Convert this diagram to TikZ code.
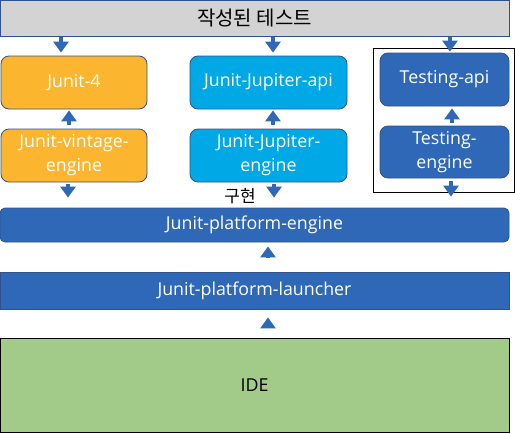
\documentclass[tikz,border=0pt]{standalone}
\usepackage{fontspec}
\setmainfont{Open Sans}
\newfontfamily\kr{Noto Sans CJK KR}
\usetikzlibrary{arrows.meta,calc}

\definecolor{topgray}{RGB}{211,211,211}
\definecolor{junorange}{RGB}{251,181,47}
\definecolor{jupcyan}{RGB}{0,169,230}
\definecolor{platblue}{RGB}{46,104,183}
\definecolor{edgeblue}{RGB}{47,82,143}
\definecolor{idegreen}{RGB}{162,203,138}

\tikzset{
  box/.style={draw=edgeblue, line width=0.8pt, rounded corners=8pt, text=white,
    align=center, inner sep=0pt, font=\fontsize{17.8}{24}\selectfont},
  flatbox/.style={box, rounded corners=0pt},
  blk/.style={draw=platblue, line width=4.5pt, -{Triangle[width=15pt,length=11pt]}},
}

\begin{document}
\begin{tikzpicture}[x=1pt, y=-1pt]
    \useasboundingbox (0,0) rectangle (515,434);

    % layers
    \node[flatbox, fill=topgray, text=black, minimum width=509pt, minimum height=36pt,
      font=\kr\fontsize{20}{22}\selectfont] (test) at (254.5,18) {작성된 테스트};

    \node[box, fill=junorange, minimum width=146pt, minimum height=53pt] (j4) at (74,82.5) {Junit-4};
    \node[box, fill=jupcyan, minimum width=157pt, minimum height=53pt] (jupapi) at (268.5,82.5) {Junit-Jupiter-api};
    \node[box, fill=platblue, minimum width=129pt, minimum height=53pt] (tapi) at (444.5,79.5) {Testing-api};

    \node[box, fill=junorange, minimum width=146pt, minimum height=53pt] (vint) at (74,155.5) {Junit-vintage-\\engine};
    \node[box, fill=jupcyan, minimum width=157pt, minimum height=53pt] (jupeng) at (268.5,155.5) {Junit-Jupiter-\\engine};
    \node[box, fill=platblue, minimum width=129pt, minimum height=52pt] (teng) at (444.5,152) {Testing-\\engine};

    \node[draw=black, line width=0.8pt, minimum width=141pt, minimum height=144pt] (grp) at (443.5,120) {};

    \node[box, rounded corners=5pt, fill=platblue, minimum width=509pt, minimum height=34pt] (peng) at (254.5,225) {Junit-platform-engine};
    \node[flatbox, fill=platblue, minimum width=509pt, minimum height=37pt] (launch) at (254.5,290.5) {Junit-platform-launcher};
    \node[flatbox, draw=black, fill=idegreen, text=black, minimum width=509pt, minimum height=94pt] (ide) at (254.5,385) {IDE};

    \node[font=\kr\fontsize{17}{19}\selectfont] (impl) at (240,196.5) {구현};

    % arrows
    \draw[blk, shorten <=1pt, shorten >=3pt] ($(test.south -| j4.north)+(-13,0)$) -- ($(j4.north)+(-13,0)$);
    \draw[blk, shorten <=1pt, shorten >=3pt] ($(test.south -| jupapi.north)+(4.5,0)$) -- ($(jupapi.north)+(4.5,0)$);
    \draw[blk, shorten <=1pt, shorten >=1pt] ($(test.south -| tapi.north)+(5.5,0)$) -- ($(tapi.north)+(5.5,0)$);

    \draw[blk, shorten <=4pt, shorten >=1pt] ($(vint.north)+(-5,0)$) -- ($(j4.south)+(-5,0)$);
    \draw[blk, shorten <=4pt, shorten >=1pt] ($(jupeng.north)+(4.5,0)$) -- ($(jupapi.south)+(4.5,0)$);
    \draw[blk, shorten <=3pt, shorten >=2pt] ($(teng.north)+(7.5,0)$) -- ($(tapi.south)+(7.5,0)$);

    \draw[blk, shorten <=2pt, shorten >=10pt] ($(vint.south)+(-6,0)$) -- ($(peng.north -| vint.south)+(-6,0)$);
    \draw[blk, shorten <=2pt, shorten >=10pt] ($(jupeng.south)+(5.5,0)$) -- ($(peng.north -| jupeng.south)+(5.5,0)$);
    \draw[blk, shorten <=3pt, shorten >=11pt] ($(teng.south)+(6.5,0)$) -- ($(peng.north -| teng.south)+(6.5,0)$);

    \draw[blk, shorten <=14pt, shorten >=4pt] ($(launch.north)+(13.5,0)$) -- ($(peng.south)+(13.5,0)$);
    \draw[blk, shorten <=12pt, shorten >=8pt] ($(ide.north)+(13.5,0)$) -- ($(launch.south)+(13.5,0)$);
\end{tikzpicture}
\end{document}
